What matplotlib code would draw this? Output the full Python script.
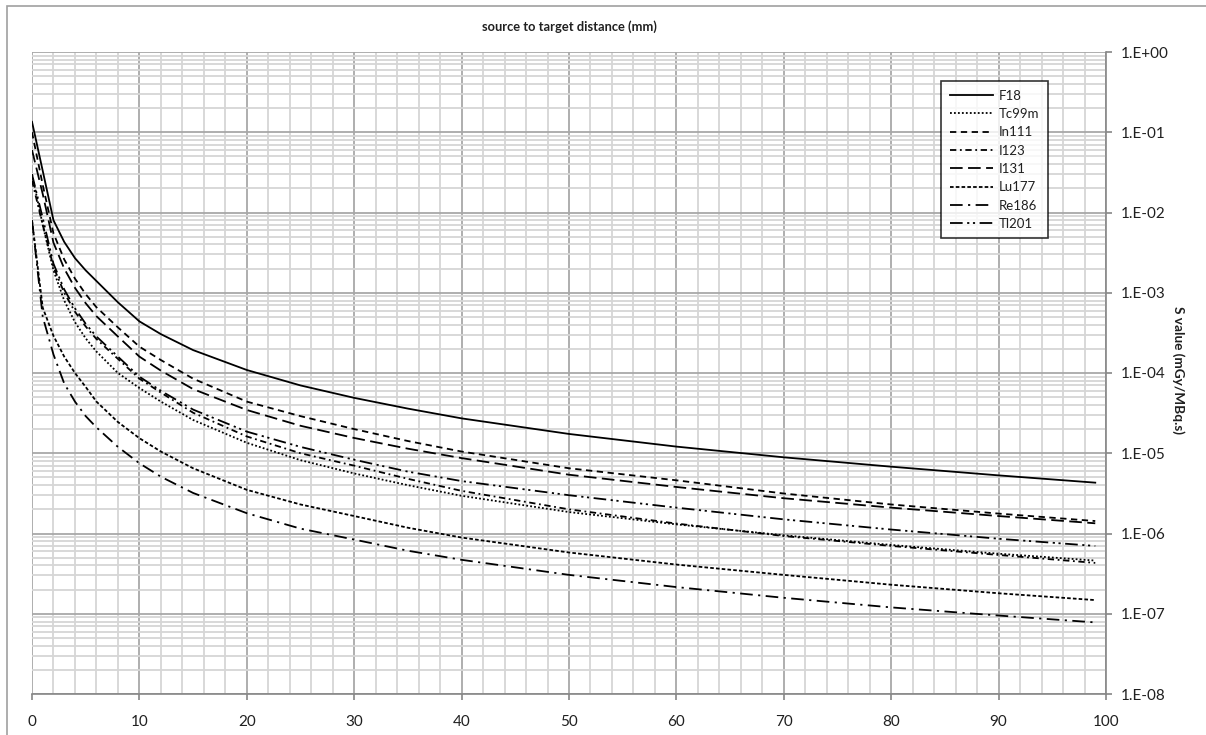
import numpy as np
import matplotlib
matplotlib.use("Agg")
import matplotlib.pyplot as plt
from matplotlib.ticker import FixedLocator, FuncFormatter, NullFormatter
from matplotlib.patches import Rectangle

plt.rcParams['font.family'] = ['Lato', 'DejaVu Sans']

distance = [0, 1, 2, 3, 4, 5, 6, 8, 10, 12, 15, 20, 25, 30, 35, 40, 50, 60, 70, 80, 90, 99]

F18   = [0.135, 0.033, 8.0e-3, 4.3e-3, 2.7e-3, 1.9e-3, 1.4e-3, 7.6e-4, 4.4e-4, 3.05e-4, 1.93e-4, 1.09e-4,
         7.0e-5, 4.9e-5, 3.6e-5, 2.72e-5, 1.74e-5, 1.21e-5, 8.9e-6, 6.8e-6, 5.3e-6, 4.3e-6]
Tc99m = [0.03, 7e-3, 1.9e-3, 8.0e-4, 4.3e-4, 2.7e-4, 1.85e-4, 1.0e-4, 6.5e-5, 4.4e-5, 2.6e-5, 1.35e-5,
         8.2e-6, 5.6e-6, 4.0e-6, 2.95e-6, 1.85e-6, 1.3e-6, 9.5e-7, 7.2e-7, 5.6e-7, 4.6e-7]
In111 = [0.10, 0.022, 5.5e-3, 2.6e-3, 1.5e-3, 9.6e-4, 6.6e-4, 3.7e-4, 2.13e-4, 1.45e-4, 8.5e-5, 4.4e-5,
         2.9e-5, 2.0e-5, 1.42e-5, 1.05e-5, 6.5e-6, 4.6e-6, 3.15e-6, 2.3e-6, 1.77e-6, 1.43e-6]
I123  = [0.025, 7e-3, 2.1e-3, 1.0e-3, 5.8e-4, 3.8e-4, 2.65e-4, 1.5e-4, 8.5e-5, 5.7e-5, 3.2e-5, 1.62e-5,
         1.0e-5, 7.0e-6, 4.8e-6, 3.4e-6, 2.0e-6, 1.33e-6, 9.3e-7, 7.0e-7, 5.4e-7, 4.3e-7]
I131  = [0.06, 0.017, 4.2e-3, 2.0e-3, 1.15e-3, 7.4e-4, 5.1e-4, 2.85e-4, 1.6e-4, 1.07e-4, 6.3e-5, 3.46e-5,
         2.2e-5, 1.55e-5, 1.14e-5, 8.7e-6, 5.4e-6, 3.8e-6, 2.75e-6, 2.1e-6, 1.65e-6, 1.34e-6]
Lu177 = [8e-3, 6.5e-4, 2.9e-4, 1.6e-4, 1.0e-4, 6.7e-5, 4.4e-5, 2.45e-5, 1.54e-5, 1.05e-5, 6.5e-6, 3.5e-6,
         2.3e-6, 1.65e-6, 1.18e-6, 8.9e-7, 5.8e-7, 4.1e-7, 3.05e-7, 2.3e-7, 1.8e-7, 1.48e-7]
Re186 = [8e-3, 5e-4, 1.7e-4, 7.4e-5, 4.4e-5, 2.9e-5, 2.1e-5, 1.2e-5, 7.5e-6, 5.1e-6, 3.2e-6, 1.79e-6,
         1.15e-6, 8.4e-7, 6.1e-7, 4.7e-7, 3.05e-7, 2.15e-7, 1.58e-7, 1.2e-7, 9.5e-8, 7.8e-8]
Tl201 = [0.03, 8.5e-3, 2.3e-3, 1.1e-3, 6.4e-4, 4.1e-4, 2.85e-4, 1.6e-4, 9.0e-5, 6.0e-5, 3.5e-5, 1.86e-5,
         1.2e-5, 8.3e-6, 5.9e-6, 4.5e-6, 3.0e-6, 2.1e-6, 1.5e-6, 1.12e-6, 8.6e-7, 7.0e-7]

x_ticks = [0, 10, 20, 30, 40, 50, 60, 70, 80, 90, 100]
y_exponents = [-8, -7, -6, -5, -4, -3, -2, -1, 0]

series = [
    ("F18", F18, '-'),
    ("Tc99m", Tc99m, (0, (1, 1.2))),
    ("In111", In111, (0, (3.5, 2.5))),
    ("I123", I123, (0, (3.5, 2, 1, 2))),
    ("I131", I131, (0, (7, 3))),
    ("Lu177", Lu177, (0, (2, 1.2))),
    ("Re186", Re186, (0, (7, 3, 1.2, 3))),
    ("Tl201", Tl201, (0, (7, 2.5, 1.2, 2, 1.2, 2.5))),
]

W, H = 1206, 735
fig = plt.figure(figsize=(W / 100, H / 100), dpi=100)
ax = fig.add_axes([32 / W, (H - 694) / H, (1106 - 32) / W, (694 - 52) / H])

for name, vals, ls in series:
    ax.plot(distance, vals, color='black', lw=1.3, linestyle=ls, label=name,
            dash_capstyle='butt')

ax.set_yscale('log')
ax.set_xlim(0, 100)
ax.set_ylim(1e-8, 1)

ax.xaxis.set_major_locator(FixedLocator(x_ticks))
ax.xaxis.set_minor_locator(FixedLocator([v for v in range(0, 101, 2) if v % 10]))
major_y = [10.0 ** e for e in y_exponents]
minor_y = [m * 10.0 ** e for e in y_exponents[:-1] for m in range(2, 10)]
ax.yaxis.set_major_locator(FixedLocator(major_y))
ax.yaxis.set_minor_locator(FixedLocator(minor_y))
ax.yaxis.set_minor_formatter(NullFormatter())
ax.xaxis.set_minor_formatter(NullFormatter())
ax.yaxis.set_major_formatter(FuncFormatter(lambda v, p: "1.E%+03d" % int(round(np.log10(v)))))

ax.grid(which='major', color='#a8a8a8', lw=1.3)
ax.grid(which='minor', color='#d6d6d6', lw=1.3)
ax.set_axisbelow(True)

ax.yaxis.tick_right()
ax.yaxis.set_label_position('right')
for s in ['left', 'top']:
    ax.spines[s].set_visible(False)
for s in ['bottom', 'right']:
    ax.spines[s].set_color('#868686')
    ax.spines[s].set_linewidth(1.2)

ax.tick_params(which='major', direction='out', length=4, color='#868686', width=1.2,
               labelsize=11, labelcolor='#202020')
ax.tick_params(axis='x', which='major', pad=11)
ax.tick_params(axis='y', which='major', pad=7)
ax.tick_params(which='minor', length=0)

fig.text(0.5 * (32 + 1106) / W, 1 - 27 / H, "source to target distance (mm)",
         ha='center', va='center', fontsize=9.3, fontweight='bold', color='#202020')
fig.text(1178 / W, 1 - 370 / H, "S value (mGy/MBq.s)", rotation=270,
         ha='center', va='center', fontsize=9.8, fontweight='bold', color='#202020')

leg = ax.legend(loc='upper left', bbox_to_anchor=(941 / W, 1 - 81 / H),
                bbox_transform=fig.transFigure, frameon=True, fancybox=False,
                fontsize=9.5, handlelength=3.3, labelspacing=0.48, borderpad=0.65,
                handletextpad=0.45, borderaxespad=0)
leg.get_frame().set_edgecolor('black')
leg.get_frame().set_linewidth(1.2)
for t in leg.get_texts():
    t.set_color('#202020')

fig.patches.append(Rectangle((7 / W, -0.1), 1.2, 1 - 6 / H + 0.1, transform=fig.transFigure,
                             fill=False, edgecolor='#a0a0a0', lw=1.2))

fig.savefig("out.png", dpi=100)
